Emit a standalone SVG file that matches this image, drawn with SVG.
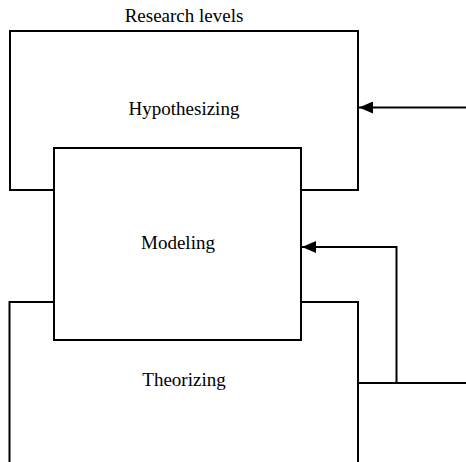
<svg xmlns="http://www.w3.org/2000/svg" width="466" height="462" viewBox="0 0 466 462">
  <defs>
    <marker id="arrow" viewBox="0 0 14 12" refX="14" refY="6" markerWidth="14" markerHeight="12" markerUnits="userSpaceOnUse" orient="auto">
      <path d="M0,0 L14,6 L0,12 Z" fill="#000"/>
    </marker>
  </defs>
  <style>
    .box { fill: #fff; stroke: #000; stroke-width: 2; }
    .lbl { font-family: "Liberation Serif", "Times New Roman", serif; font-size: 19px; fill: #000; text-anchor: middle; }
    .edge { fill: none; stroke: #000; stroke-width: 2; }
  </style>
  <rect width="466" height="462" fill="#fff"/>
  <text class="lbl" x="184" y="22">Research levels</text>
  <g id="hypothesizing">
    <rect class="box" x="10" y="31" width="348" height="159"/>
    <text class="lbl" x="184" y="115">Hypothesizing</text>
  </g>
  <g id="theorizing">
    <path class="box" d="M9.5,463 V302 H358 V463"/>
    <text class="lbl" x="184" y="386">Theorizing</text>
  </g>
  <g id="modeling">
    <rect class="box" x="54" y="148" width="247" height="192"/>
    <text class="lbl" x="178" y="249">Modeling</text>
  </g>
  <g id="connectors">
    <path class="edge" d="M466,107.5 H359" marker-end="url(#arrow)"/>
    <path class="edge" d="M466,383 H358"/>
    <path class="edge" d="M396.5,383 V247 H302" marker-end="url(#arrow)"/>
  </g>
</svg>
